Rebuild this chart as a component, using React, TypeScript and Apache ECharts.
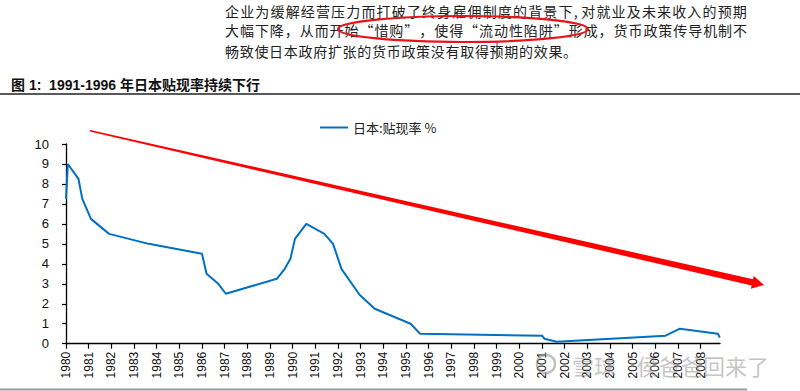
import { useEffect, useRef } from "react";
import * as echarts from "echarts";

// ---- data ----
const seriesName = "日本:贴现率 %";
const dateYears = [
  1980.0, 1980.08, 1980.55, 1980.72, 1981.1, 1981.9, 1983.65, 1986.0, 1986.2, 1986.72,
  1987.05, 1989.3, 1989.65, 1989.9, 1990.1, 1990.6, 1991.4, 1991.78, 1992.15, 1992.95,
  1993.62, 1995.2, 1995.62, 2001.0, 2001.1, 2001.65, 2006.45, 2007.08, 2008.76, 2008.84,
];
const rates = [
  7.25, 9.0, 8.25, 7.25, 6.25, 5.5, 5.0, 4.5, 3.5, 3.0,
  2.5, 3.25, 3.75, 4.25, 5.25, 6.0, 5.5, 5.0, 3.75, 2.45,
  1.75, 1.0, 0.5, 0.4, 0.25, 0.1, 0.4, 0.75, 0.5, 0.3,
];
const tickYears = [
  1980, 1981, 1982, 1983, 1984, 1985, 1986, 1987, 1988, 1989, 1990, 1991, 1992, 1993, 1994,
  1995, 1996, 1997, 1998, 1999, 2000, 2001, 2002, 2003, 2004, 2005, 2006, 2007, 2008,
];
const titleText = "图 1:  1991-1996 年日本贴现率持续下行";
const paragraphLines = [
  "企业为缓解经营压力而打破了终身雇佣制度的背景下,对就业及未来收入的预期",
  "大幅下降，从而开始“惜购”，使得“流动性陷阱”形成，货币政策传导机制不",
  "畅致使日本政府扩张的货币政策没有取得预期的效果。",
];
const watermarkA = "雪球";
const watermarkB = "侯爸爸回来了";

const CJK = "'Noto Sans CJK SC', sans-serif";
const SANS = "'Liberation Sans', Arial, 'Noto Sans CJK SC', sans-serif";

function charWeight(c: string) {
  return c === "," ? 0.5 : 1;
}

function lineChars(text: string, x0: number, x1: number | null, y: number, fs: number, step: number) {
  const chars = Array.from(text);
  const total = chars.reduce((s, c) => s + charWeight(c), 0);
  const st = x1 === null ? step : (x1 - x0) / total;
  const out: any[] = [];
  let x = x0;
  for (const c of chars) {
    out.push({
      type: "text",
      x,
      y,
      silent: true,
      style: {
        text: c,
        fontSize: fs,
        lineHeight: fs,
        fontFamily: CJK,
        fill: "#222",
        verticalAlign: "top",
        align: "left",
      },
    });
    x += st * charWeight(c);
  }
  return out;
}

function arrowPoints() {
  const sx = 90, sy = 130.7, tx = 764, ty = 285;
  const dx = tx - sx, dy = ty - sy;
  const L = Math.hypot(dx, dy);
  const ux = dx / L, uy = dy / L;
  const nx = -uy, ny = ux;
  const headLen = 12;
  const ex = tx - ux * headLen, ey = ty - uy * headLen;
  const w0 = 0.8, w1 = 3.2, hw = 6.5;
  return [
    [sx + nx * w0, sy + ny * w0],
    [ex + nx * w1, ey + ny * w1],
    [ex + nx * hw, ey + ny * hw],
    [tx, ty],
    [ex - nx * hw, ey - ny * hw],
    [ex - nx * w1, ey - ny * w1],
    [sx - nx * w0, sy - ny * w0],
  ];
}

export default function App() {
  const ref = useRef<HTMLDivElement>(null);
  useEffect(() => {
    if (!ref.current) return;
    const chart = echarts.init(ref.current, null, { renderer: "svg" });
    const data = dateYears.map((x, i) => [x, rates[i]]);
    const graphics: any[] = [
      ...lineChars(paragraphLines[0], 225, 748, 4, 14, 14.7),
      ...lineChars(paragraphLines[1], 225, 748, 22.5, 14, 14.7),
      ...lineChars(paragraphLines[2], 225, null, 43.5, 14, 14.7),
      {
        type: "line",
        silent: true,
        shape: { x1: 497, y1: 42, x2: 497, y2: 58 },
        style: { stroke: "#444", lineWidth: 1 },
      },
      {
        type: "ellipse",
        silent: true,
        shape: { cx: 463, cy: 29, rx: 125, ry: 13 },
        style: { fill: "none", stroke: "#e8141a", lineWidth: 2.2 },
      },
      {
        type: "text",
        x: 11,
        y: 85,
        silent: true,
        style: {
          text: titleText,
          fontSize: 14,
          fontWeight: "bold",
          fontFamily: SANS,
          fill: "#111",
          verticalAlign: "middle",
        },
      },
      {
        type: "line",
        silent: true,
        shape: { x1: 0, y1: 94, x2: 800, y2: 94 },
        style: { stroke: "#222", lineWidth: 1.5 },
      },
      {
        type: "line",
        silent: true,
        shape: { x1: 0, y1: 389.5, x2: 747, y2: 389.5 },
        style: { stroke: "#999", lineWidth: 2 },
      },
      {
        type: "polygon",
        silent: true,
        z: 100,
        shape: { points: arrowPoints() },
        style: { fill: "#ff0000" },
      },
      {
        type: "circle",
        silent: true,
        z: 100,
        shape: { cx: 546, cy: 364, r: 9 },
        style: { fill: "none", stroke: "rgba(140,140,140,0.55)", lineWidth: 2.5 },
      },
      {
        type: "text",
        x: 572,
        y: 365,
        silent: true,
        z: 100,
        style: {
          text: watermarkA,
          fontSize: 22,
          fontFamily: CJK,
          fill: "rgba(140,140,140,0.5)",
          verticalAlign: "middle",
        },
      },
      {
        type: "text",
        x: 637,
        y: 365,
        silent: true,
        z: 100,
        style: {
          text: watermarkB,
          fontSize: 22,
          fontFamily: CJK,
          fill: "rgba(140,140,140,0.5)",
          verticalAlign: "middle",
        },
      },
    ];

    chart.setOption({
      animation: false,
      backgroundColor: "#ffffff",
      grid: { left: 66, right: 80, top: 144, bottom: 47.3, containLabel: false },
      legend: {
        data: [seriesName],
        left: 315,
        top: 116,
        icon: "rect",
        itemWidth: 28,
        itemHeight: 2,
        textStyle: { fontSize: 13, fontFamily: CJK, color: "#222" },
      },
      xAxis: {
        type: "value",
        min: 1980,
        max: 2008.85,
        interval: 1,
        splitLine: { show: false },
        axisLine: { lineStyle: { color: "#000", width: 1.3 } },
        axisTick: {
          show: true,
          length: 5,
          lineStyle: { color: "#000", width: 1.2 },
          customValues: tickYears,
        },
        axisLabel: {
          rotate: 90,
          margin: 8,
          fontSize: 12,
          fontFamily: SANS,
          color: "#111",
          customValues: tickYears,
          formatter: (v: number) => String(Math.round(v)),
        },
      },
      yAxis: {
        type: "value",
        min: 0,
        max: 10,
        interval: 1,
        splitLine: { show: false },
        axisLine: { show: true, lineStyle: { color: "#000", width: 1.3 } },
        axisTick: { show: true, length: 4, lineStyle: { color: "#000", width: 1.2 } },
        axisLabel: { margin: 17, fontSize: 13, fontFamily: SANS, color: "#111" },
      },
      series: [
        {
          name: seriesName,
          type: "line",
          data,
          showSymbol: false,
          symbol: "none",
          lineStyle: { color: "#0070C0", width: 2 },
          itemStyle: { color: "#0070C0" },
        },
      ],
      graphic: graphics,
    });
    return () => chart.dispose();
  }, []);
  return (
    <div
      ref={ref}
      style={{ position: "fixed", left: 0, top: 0, width: 800, height: 391, background: "#fff" }}
    />
  );
}
